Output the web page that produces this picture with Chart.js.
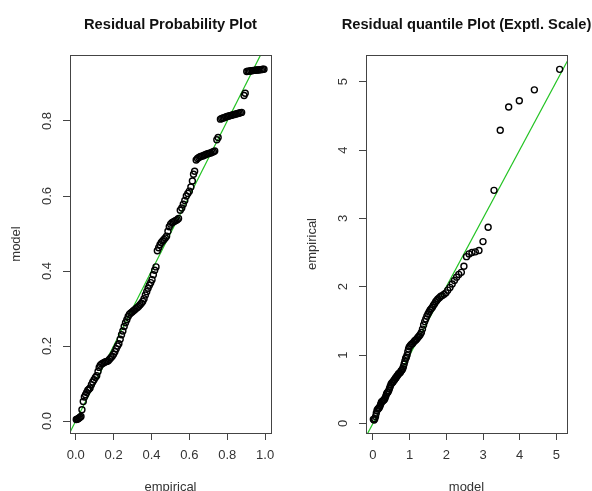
<!DOCTYPE html>
<html>
<head>
<meta charset="utf-8">
<script src="https://cdn.jsdelivr.net/npm/chart.js@4.4.1/dist/chart.umd.min.js"></script>
<style>
  html, body { margin: 0; padding: 0; background: #fff; }
  #wrap { position: relative; width: 592px; height: 491px; overflow: hidden; }
  #wrap canvas { position: absolute; top: 0; }
</style>
</head>
<body>
<div id="wrap">
  <canvas id="probPlot" width="296" height="491" style="left:0"></canvas>
  <canvas id="quantPlot" width="296" height="491" style="left:296px"></canvas>
</div>
<script>
// P-P plot: empirical probability (x) vs fitted model probability (y)
const ppEmpirical = [
  0.003, 0.008, 0.013, 0.018, 0.023, 0.028, 0.033, 0.040, 0.046, 0.052,
  0.058, 0.064, 0.070, 0.076, 0.083, 0.090, 0.097, 0.104, 0.111, 0.118,
  0.124, 0.130, 0.137, 0.144, 0.151, 0.158, 0.165, 0.172, 0.179, 0.186,
  0.193, 0.200, 0.207, 0.214, 0.221, 0.228, 0.235, 0.242, 0.249, 0.256,
  0.263, 0.270, 0.277, 0.284, 0.291, 0.298, 0.305, 0.312, 0.319, 0.326,
  0.333, 0.340, 0.347, 0.354, 0.361, 0.368, 0.375, 0.382, 0.389, 0.396,
  0.403, 0.410, 0.417, 0.424, 0.431, 0.438, 0.445, 0.452, 0.459, 0.466,
  0.473, 0.480, 0.487, 0.494, 0.501, 0.508, 0.515, 0.522, 0.529, 0.536,
  0.543, 0.552, 0.560, 0.568, 0.576, 0.584, 0.592, 0.600, 0.608, 0.616,
  0.622, 0.628, 0.636, 0.643, 0.650, 0.657, 0.664, 0.671, 0.678, 0.685,
  0.692, 0.699, 0.706, 0.713, 0.720, 0.727, 0.734, 0.745, 0.752, 0.764,
  0.771, 0.778, 0.785, 0.792, 0.799, 0.806, 0.813, 0.820, 0.827, 0.834,
  0.841, 0.848, 0.855, 0.862, 0.869, 0.876, 0.889, 0.895, 0.903, 0.910,
  0.917, 0.924, 0.931, 0.938, 0.945, 0.952, 0.959, 0.966, 0.973, 0.980,
  0.987, 0.994
];
const ppModel = [
  0.004, 0.005, 0.006, 0.008, 0.010, 0.012, 0.030, 0.052, 0.064, 0.070,
  0.076, 0.082, 0.085, 0.088, 0.097, 0.104, 0.110, 0.116, 0.121, 0.132,
  0.143, 0.149, 0.152, 0.154, 0.156, 0.158, 0.159, 0.161, 0.165, 0.169,
  0.173, 0.178, 0.185, 0.193, 0.200, 0.206, 0.218, 0.230, 0.240, 0.252,
  0.262, 0.270, 0.279, 0.285, 0.288, 0.291, 0.294, 0.297, 0.300, 0.303,
  0.306, 0.310, 0.314, 0.319, 0.326, 0.336, 0.345, 0.354, 0.362, 0.369,
  0.377, 0.390, 0.402, 0.411, 0.454, 0.462, 0.470, 0.476, 0.480, 0.484,
  0.488, 0.493, 0.506, 0.518, 0.525, 0.529, 0.531, 0.533, 0.535, 0.537,
  0.540, 0.562, 0.568, 0.578, 0.588, 0.600, 0.607, 0.613, 0.624, 0.640,
  0.658, 0.666, 0.696, 0.700, 0.703, 0.705, 0.706, 0.707, 0.709, 0.710,
  0.712, 0.713, 0.714, 0.715, 0.717, 0.718, 0.720, 0.750, 0.756, 0.805,
  0.807, 0.808, 0.809, 0.811, 0.812, 0.813, 0.814, 0.815, 0.816, 0.817,
  0.818, 0.819, 0.820, 0.821, 0.822, 0.823, 0.868, 0.874, 0.932, 0.933,
  0.933, 0.934, 0.934, 0.935, 0.935, 0.936, 0.936, 0.936, 0.937, 0.937,
  0.938, 0.938
];

// Q-Q plot against exponential quantiles: model (x) vs empirical (y)
const qqModel = [
  0.01, 0.03, 0.05, 0.07, 0.09, 0.11, 0.13, 0.15, 0.17, 0.19,
  0.21, 0.23, 0.25, 0.27, 0.29, 0.31, 0.33, 0.35, 0.37, 0.39,
  0.41, 0.43, 0.45, 0.47, 0.49, 0.51, 0.53, 0.55, 0.57, 0.59,
  0.61, 0.63, 0.65, 0.67, 0.69, 0.71, 0.73, 0.75, 0.77, 0.79,
  0.81, 0.83, 0.85, 0.87, 0.89, 0.91, 0.93, 0.95, 0.97, 0.99,
  1.02, 1.05, 1.08, 1.11, 1.14, 1.17, 1.20, 1.23, 1.26, 1.29,
  1.32, 1.35, 1.38, 1.41, 1.44, 1.47, 1.50, 1.53, 1.56, 1.59,
  1.62, 1.65, 1.68, 1.71, 1.74, 1.77, 1.81, 1.85, 1.89, 1.94,
  1.99, 2.04, 2.10, 2.16, 2.22, 2.28, 2.34, 2.41, 2.48, 2.55,
  2.62, 2.70, 2.79, 2.89, 3.00, 3.14, 3.30, 3.47, 3.70, 3.99,
  4.40, 5.09
];
const qqEmpirical = [
  0.06, 0.05, 0.07, 0.10, 0.15, 0.19, 0.21, 0.22, 0.23, 0.25,
  0.28, 0.31, 0.32, 0.33, 0.34, 0.35, 0.37, 0.40, 0.43, 0.45,
  0.46, 0.48, 0.51, 0.54, 0.57, 0.59, 0.60, 0.61, 0.63, 0.64,
  0.66, 0.67, 0.69, 0.70, 0.72, 0.73, 0.74, 0.75, 0.77, 0.78,
  0.80, 0.83, 0.87, 0.91, 0.95, 0.97, 1.00, 1.05, 1.09, 1.12,
  1.14, 1.16, 1.17, 1.19, 1.21, 1.22, 1.24, 1.26, 1.28, 1.30,
  1.33, 1.38, 1.44, 1.49, 1.53, 1.57, 1.60, 1.63, 1.66, 1.68,
  1.70, 1.73, 1.75, 1.78, 1.80, 1.82, 1.84, 1.86, 1.87, 1.89,
  1.91, 1.95, 1.99, 2.04, 2.09, 2.14, 2.18, 2.21, 2.30, 2.44,
  2.48, 2.50, 2.51, 2.53, 2.66, 2.87, 3.41, 4.29, 4.63, 4.72,
  4.88, 5.18
];

const ppXTicks = [0, 0.2, 0.4, 0.6, 0.8, 1.0];
const ppYTicks = [0, 0.2, 0.4, 0.6, 0.8];
const qqTicks = [0, 1, 2, 3, 4, 5];

const FONT = '"Liberation Sans", Arial, Helvetica, sans-serif';
Chart.defaults.font.family = FONT;
Chart.defaults.color = '#333';

// draws the frame box, the bold title and the rotated y tick labels
const rFrame = {
  id: 'rFrame',
  afterDraw(chart, args, opts) {
    const { ctx, chartArea: a } = chart;
    const ys = chart.scales.y;
    ctx.save();
    ctx.strokeStyle = '#444';
    ctx.lineWidth = 1;
    ctx.strokeRect(Math.round(a.left) + 0.5, Math.round(a.top) + 0.5,
      Math.round(a.right - a.left), Math.round(a.bottom - a.top));

    ctx.fillStyle = '#111';
    ctx.font = 'bold 14.7px ' + FONT;
    ctx.textAlign = 'center';
    ctx.textBaseline = 'middle';
    ctx.fillText(opts.title, (a.left + a.right) / 2, 25);

    ctx.fillStyle = '#333';
    ctx.font = '13px ' + FONT;
    opts.yTicks.forEach(v => {
      ctx.save();
      ctx.translate(47, ys.getPixelForValue(v));
      ctx.rotate(-Math.PI / 2);
      ctx.fillText(v.toFixed(opts.digits), 0, 0);
      ctx.restore();
    });
    ctx.restore();
  }
};

function makePlot(id, xs, ys, cfg) {
  const pts = xs.map((x, i) => ({ x: x, y: ys[i] }));
  return new Chart(document.getElementById(id), {
    type: 'scatter',
    data: {
      datasets: [
        {
          data: pts,
          pointStyle: 'circle',
          pointRadius: 3,
          borderWidth: 1.4,
          borderColor: '#000',
          backgroundColor: 'rgba(0,0,0,0)'
        },
        {
          type: 'line',
          data: cfg.refLine,
          borderColor: '#22c322',
          borderWidth: 1.2,
          pointRadius: 0,
          clip: 0
        }
      ]
    },
    options: {
      responsive: false,
      animation: false,
      events: [],
      layout: { padding: { top: 55, right: 25, left: 0, bottom: 0 } },
      plugins: {
        legend: { display: false },
        tooltip: { enabled: false },
        rFrame: { title: cfg.title, yTicks: cfg.yTicks, digits: cfg.digits }
      },
      scales: {
        x: {
          type: 'linear',
          min: cfg.xRange[0],
          max: cfg.xRange[1],
          afterBuildTicks: s => { s.ticks = cfg.xTicks.map(v => ({ value: v })); },
          afterFit: s => { s.height = 58; },
          border: { display: false },
          grid: { drawOnChartArea: false, drawTicks: true, tickLength: 7, color: '#444' },
          ticks: {
            autoSkip: false,
            maxRotation: 0,
            padding: 8,
            color: '#333',
            font: { size: 13 },
            callback: v => Number(v).toFixed(cfg.digits)
          },
          title: {
            display: true,
            text: cfg.xTitle,
            color: '#333',
            font: { size: 13 },
            padding: { top: 0, bottom: -4 }
          }
        },
        y: {
          type: 'linear',
          min: cfg.yRange[0],
          max: cfg.yRange[1],
          afterBuildTicks: s => { s.ticks = cfg.yTicks.map(v => ({ value: v })); },
          afterFit: s => { s.width = 70; },
          border: { display: false },
          grid: { drawOnChartArea: false, drawTicks: true, tickLength: 7, color: '#444' },
          ticks: { display: false },
          title: {
            display: true,
            text: cfg.yTitle,
            color: '#333',
            font: { size: 13 },
            padding: { top: 8.5, bottom: 0 }
          }
        }
      }
    },
    plugins: [rFrame]
  });
}

makePlot('probPlot', ppEmpirical, ppModel, {
  title: 'Residual Probability Plot',
  xTitle: 'empirical',
  yTitle: 'model',
  xRange: [-0.03, 1.031],
  yRange: [-0.032, 0.976],
  xTicks: ppXTicks,
  yTicks: ppYTicks,
  digits: 1,
  refLine: [{ x: -0.5, y: -0.5 }, { x: 1.5, y: 1.5 }]
});

makePlot('quantPlot', qqModel, qqEmpirical, {
  title: 'Residual quantile Plot (Exptl. Scale)',
  xTitle: 'model',
  yTitle: 'empirical',
  xRange: [-0.19, 5.29],
  yRange: [-0.14, 5.39],
  xTicks: qqTicks,
  yTicks: qqTicks,
  digits: 0,
  refLine: [{ x: -1, y: -1 }, { x: 7, y: 7 }]
});
</script>
</body>
</html>
